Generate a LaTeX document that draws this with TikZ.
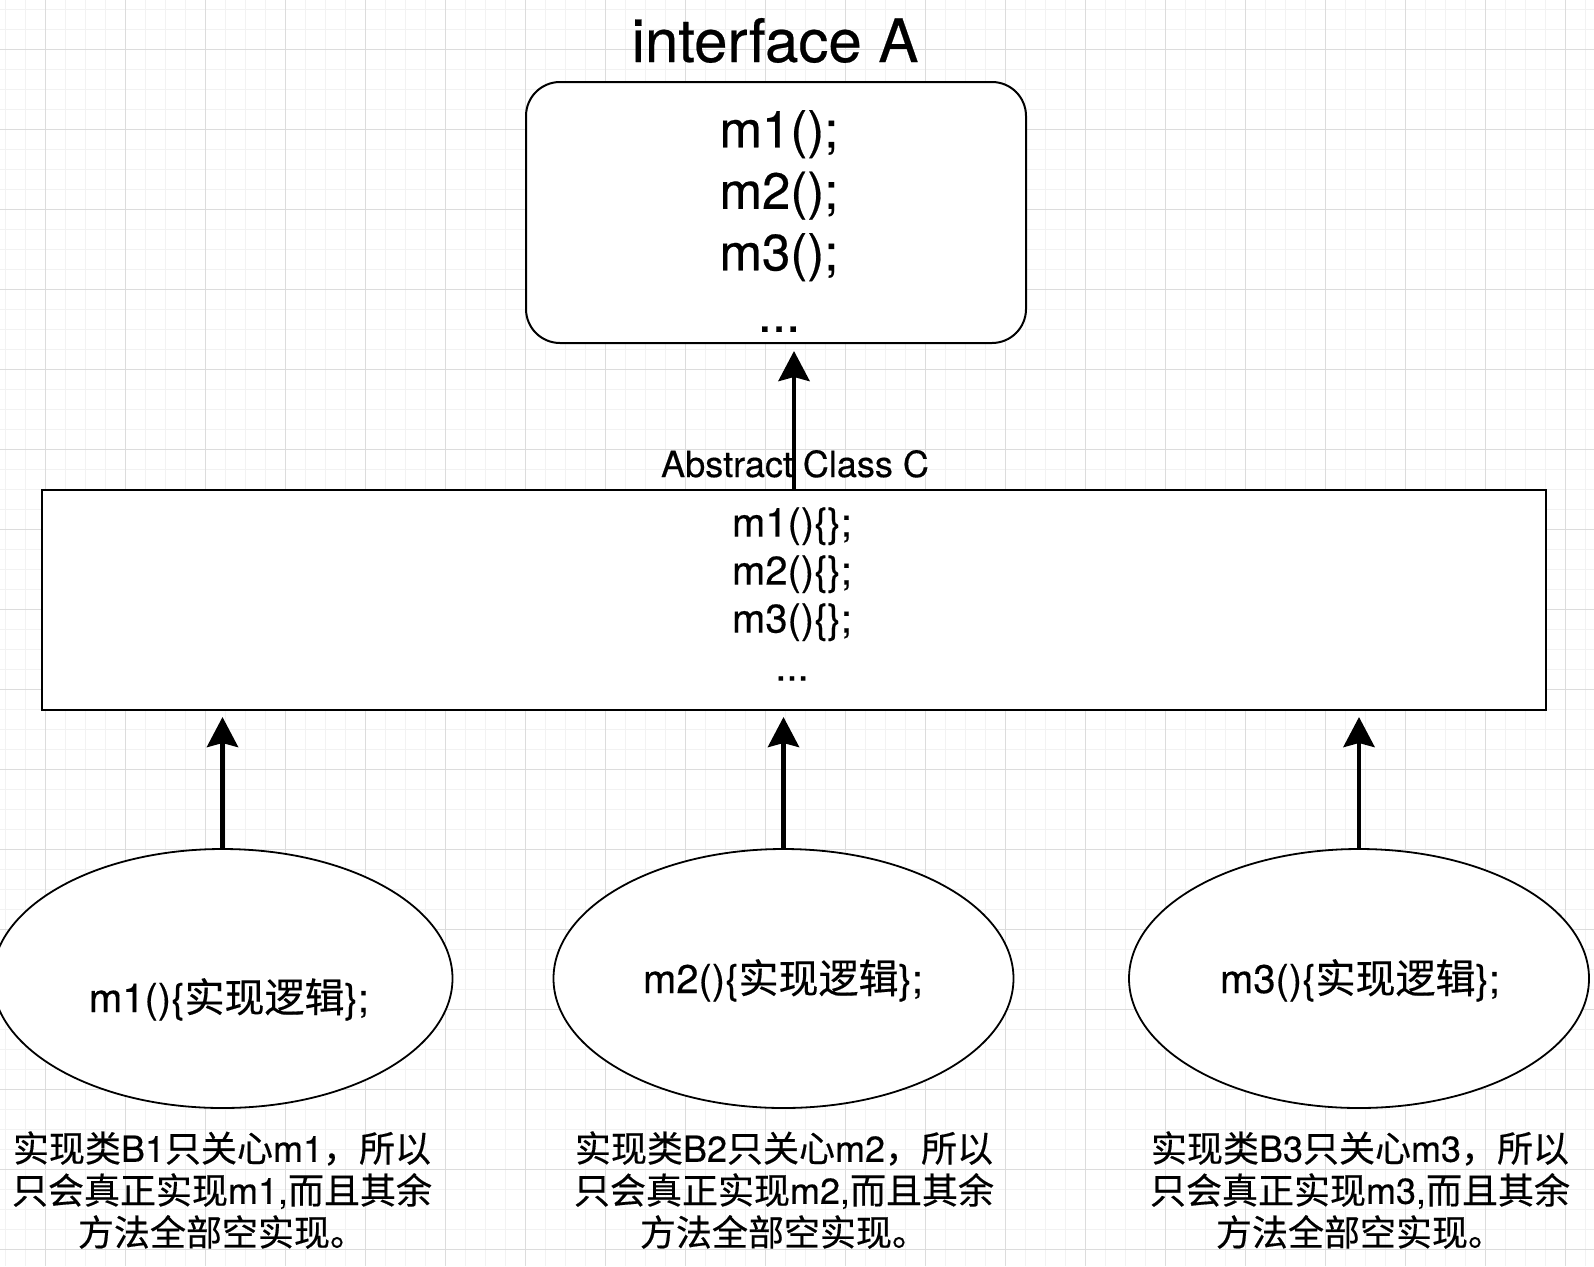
\documentclass[tikz,border=0pt]{standalone}
\usepackage{fontspec}
\setmainfont{TeX Gyre Heros}[FakeBold=0.4]
\newfontfamily\cjk{Noto Sans CJK SC}[FakeBold=0.4]
\usetikzlibrary{arrows.meta,shapes.geometric}
\definecolor{gridmajor}{HTML}{DCDCDC}
\definecolor{gridminor}{HTML}{F2F2F2}
\begin{document}
\begin{tikzpicture}[x=1pt,y=-1pt,
  minorgrid/.style={draw=gridminor,line width=1pt},
  majorgrid/.style={draw=gridmajor,line width=1pt},
  box/.style={draw=black,fill=white,line width=2pt,inner sep=0pt,outer sep=0pt},
  oval/.style={ellipse,draw=black,fill=white,line width=1.8pt,inner sep=0pt,outer sep=0pt,minimum width=460pt,minimum height=259pt},
  arr/.style={line width=4.8pt,-{Stealth[length=30pt,width=31pt,inset=4pt]}},
  txt/.style={inner sep=0pt,outer sep=0pt,align=center}
]
\useasboundingbox[fill=white] (0,0) rectangle (1594,1266);
\foreach \x in {5,25,...,1594} \draw[minorgrid] (\x,0) -- (\x,1266);
\foreach \y in {9,29,...,1266} \draw[minorgrid] (0,\y) -- (1594,\y);
\foreach \x in {45,125,...,1594} \draw[majorgrid] (\x,0) -- (\x,1266);
\foreach \y in {49,129,...,1266} \draw[majorgrid] (0,\y) -- (1594,\y);

\node[txt,anchor=base,font=\fontsize{60}{72}\selectfont] (title) at (775,62) {interface A};
\node[box,rounded corners=34pt,minimum width=500pt,minimum height=261pt] (A) at (776,212.5) {};
\node[txt,font=\fontsize{51}{61.5}\selectfont] (Atext) at (779,221) {m1();\\m2();\\m3();\\...};

\node[box,minimum width=1504pt,minimum height=220pt] (C) at (794,600) {};
\node[txt,anchor=base,font=\fontsize{36}{43}\selectfont] (Clabel) at (795,477) {Abstract Class C};
\node[txt,font=\fontsize{40}{48}\selectfont] (Ctext) at (792,594) {m1()\{\};\\m2()\{\};\\m3()\{\};\\...};

\node[oval] (B1) at (222.5,978.5) {};
\node[oval] (B2) at (783.5,978.5) {};
\node[oval] (B3) at (1359,978.5) {};
\node[txt,anchor=base,font=\fontsize{40}{48}\selectfont] (B1text) at (229,1012) {m1()\{{\cjk 实现逻辑}\};};
\node[txt,anchor=base,font=\fontsize{40}{48}\selectfont] (B2text) at (783,993) {m2()\{{\cjk 实现逻辑}\};};
\node[txt,anchor=base,font=\fontsize{40}{48}\selectfont] (B3text) at (1360,993) {m3()\{{\cjk 实现逻辑}\};};

\node[txt,font=\fontsize{36}{42}\selectfont] (N1) at (222,1190) {{\cjk 实现类}B1{\cjk 只关心}m1{\cjk ，所以}\\{\cjk 只会真正实现}m1,{\cjk 而且其余}\\{\cjk 方法全部空实现。}};
\node[txt,font=\fontsize{36}{42}\selectfont] (N2) at (784,1190) {{\cjk 实现类}B2{\cjk 只关心}m2{\cjk ，所以}\\{\cjk 只会真正实现}m2,{\cjk 而且其余}\\{\cjk 方法全部空实现。}};
\node[txt,font=\fontsize{36}{42}\selectfont] (N3) at (1360,1190) {{\cjk 实现类}B3{\cjk 只关心}m3{\cjk ，所以}\\{\cjk 只会真正实现}m3,{\cjk 而且其余}\\{\cjk 方法全部空实现。}};

\draw[arr,shorten >=8pt] (C.north) -- (C.north |- A.south);
\draw[arr,shorten >=7pt] (B1.north) -- (B1.north |- C.south);
\draw[arr,shorten >=7pt] (B2.north) -- (B2.north |- C.south);
\draw[arr,shorten >=7pt] (B3.north) -- (B3.north |- C.south);
\end{tikzpicture}
\end{document}
